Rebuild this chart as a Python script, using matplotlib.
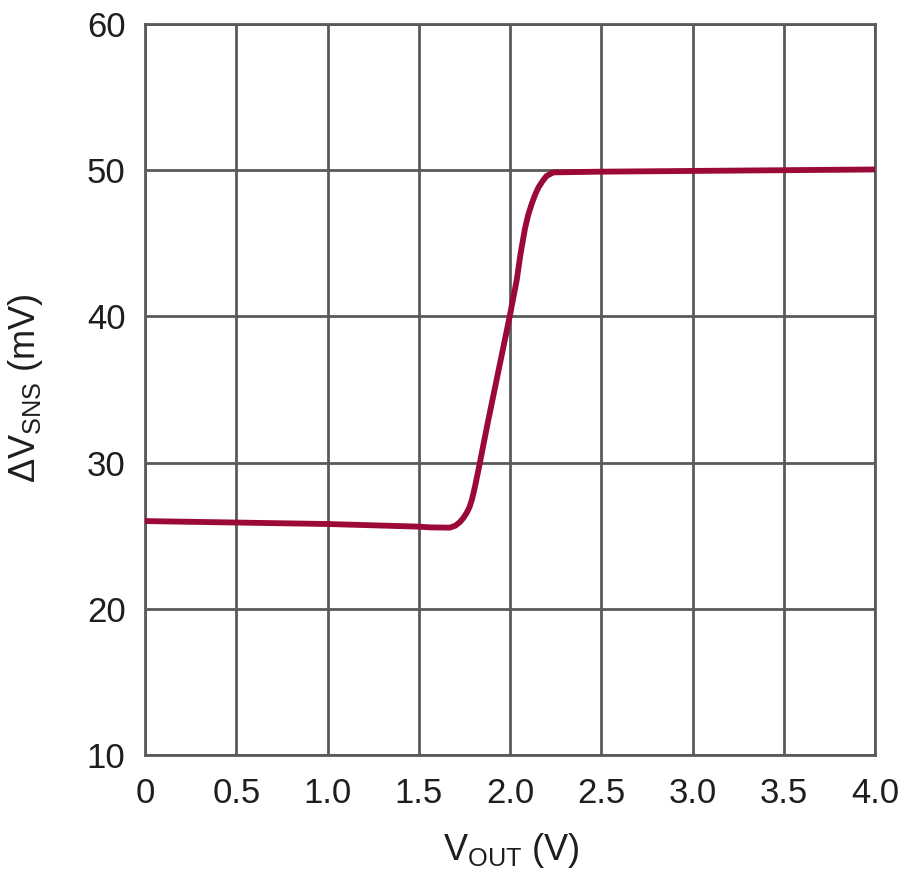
import matplotlib
matplotlib.use("Agg")
import matplotlib.pyplot as plt

vout = [0.0, 0.5, 1.0, 1.5, 1.56, 1.67, 1.70, 1.726, 1.745, 1.762, 1.778, 1.792, 1.808, 1.832, 1.854, 1.881,
        2.0, 2.037, 2.058, 2.082, 2.10, 2.119, 2.137, 2.155, 2.178, 2.20, 2.237, 2.5, 3.0, 3.5, 4.0]
dvsns = [26.0, 25.9, 25.8, 25.62, 25.57, 25.55, 25.68, 25.94, 26.22, 26.55, 26.95, 27.5, 28.35, 29.8, 31.2, 32.9,
         40.1, 42.5, 44.3, 46.0, 46.95, 47.7, 48.3, 48.8, 49.25, 49.6, 49.85, 49.9, 49.95, 50.0, 50.05]

xticks = [0, 0.5, 1.0, 1.5, 2.0, 2.5, 3.0, 3.5, 4.0]
xticklabels = ["0", "0.5", "1.0", "1.5", "2.0", "2.5", "3.0", "3.5", "4.0"]
yticks = [10, 20, 30, 40, 50, 60]
yticklabels = ["10", "20", "30", "40", "50", "60"]

fam = "Liberation Sans"
plt.rcParams["font.family"] = [fam, "DejaVu Sans"]
plt.rcParams["mathtext.fontset"] = "custom"
plt.rcParams["mathtext.rm"] = fam

txt = "#1e1e1e"
fig = plt.figure(figsize=(9, 8.77), dpi=100)
ax = fig.add_axes([145/900, 1-755/877, 730/900, 731/877])

ax.plot(vout, dvsns, color="#9b0a36", lw=4.2, solid_capstyle="butt", solid_joinstyle="round", zorder=3)
ax.set_xlim(0, 4)
ax.set_ylim(10, 60)
ax.set_xticks(xticks)
ax.set_xticklabels(xticklabels)
ax.set_yticks(yticks)
ax.set_yticklabels(yticklabels)
ax.grid(True, color="#5a5a5a", lw=2)
for s in ax.spines.values():
    s.set_color("#5a5a5a")
    s.set_linewidth(2)
ax.tick_params(axis="both", direction="in", length=0, labelsize=25, colors=txt)
ax.tick_params(axis="x", pad=16)
ax.tick_params(axis="y", pad=14)

fig.text(511/900, 1-860/877, r"V$_{\mathregular{OUT}}$ (V)", fontsize=26, color=txt,
         ha="center", va="baseline")
fig.text(26/900, 1-388/877, r"ΔV$_{\mathregular{SNS}}$ (mV)", fontsize=26, color=txt,
         ha="center", va="center", rotation=90)

fig.savefig("out.png", dpi=100)
